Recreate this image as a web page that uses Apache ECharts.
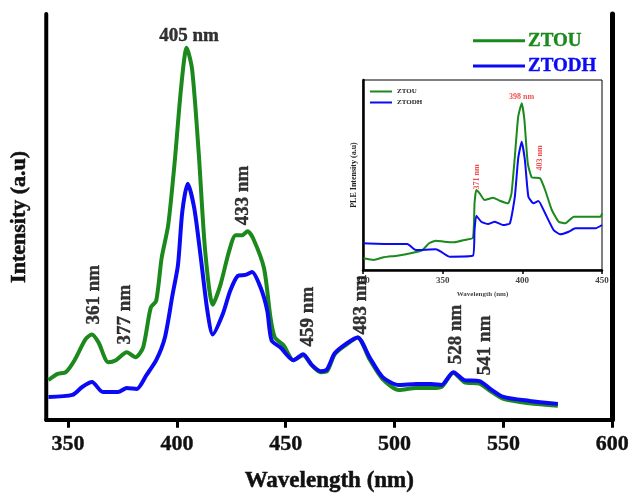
<!DOCTYPE html>
<html><head><meta charset="utf-8">
<script src="https://cdn.jsdelivr.net/npm/echarts@6/dist/echarts.min.js"></script>
<style>html,body{margin:0;padding:0;background:#fff}#c{width:632px;height:498px}</style>
</head><body><div id="c"></div>
<script>
// Main PL spectrum (wavelength nm, intensity a.u.)
const ztouMain = [[341,40],[345,46],[349,48],[353,60],[358,81],[361,86],[364,78],[368.5,58],[372,60],[377,68],[381,63],[384.5,73],[388,113],[390.5,120],[393,163],[396,196],[399,260],[402,336],[404.5,375],[407,353],[410,270],[413,170],[416.5,116],[420,136],[424,170],[427,186],[430,186],[432.5,190],[435,183],[440,153],[443,103],[445,83],[449,75],[453.5,60],[458,65],[462,55],[466,48],[469,49],[472.5,66],[478,76],[483,83],[488.5,61],[494.5,41],[502,30],[510,32],[517,32],[521.5,33],[527,47.5],[532,38],[539,36.5],[544,29],[550,21],[562,16.5],[575,14]];
const ztodhMain = [[341,23],[352,25],[356.5,33],[361,38],[366,28],[373,28],[377,32],[381.5,31],[386,45],[390.5,60],[394.5,83],[398,126],[400.5,156],[402.5,210],[405,238],[408,213],[411,163],[414,110],[416.5,86],[421,106],[424.5,130],[428,145],[431.5,146],[434.5,149],[438.5,133],[441.5,110],[443.5,80],[447.5,73],[453.5,60],[458,66],[462,55],[466,49],[469,51],[472.5,67],[478,77],[483,83],[488.5,63],[494.5,43],[502,35],[510,36],[517,36],[521.5,35],[527,48],[532,40],[539,39],[544,31],[550,23],[562,19],[575,16]];
// Inset PLE spectrum
const ztouInset = [[300.4,11.7],[306.7,10],[313,12.7],[321.5,14.3],[329.9,16.7],[337.3,20],[341.5,26.7],[345.8,29.3],[351,28.3],[357.3,27.7],[363.7,30],[369,32.3],[370,66.7],[371.1,80],[373.2,76.7],[376.3,70],[381.6,72.3],[385.8,69.3],[391.1,66.7],[393.2,76.7],[395.3,113.3],[397.4,153.3],[399.6,166.7],[401.3,150],[403.4,106.7],[405.9,92.7],[411.1,91.7],[414.3,80],[418.5,60],[422.8,48.3],[427,46.7],[432.3,53.3],[439.6,53.3],[449.1,53.3],[450,56.7]];
const ztodhInset = [[300.4,26.7],[315.2,26],[327.8,26],[333.1,20],[345.8,20.7],[348.9,18.3],[354.2,13.3],[369,14.3],[370,40],[371.1,54.3],[374.2,48.3],[378.5,46],[382.7,48.3],[388,45],[392.2,46.7],[395.3,73.3],[397.4,111.7],[399.6,128.3],[401.6,110],[403.8,73.3],[406.9,66.7],[410.1,69],[414.3,56.7],[419.6,40],[423.8,35.7],[429.1,38.3],[433.3,41.7],[446,41.7],[450,45]];
// Peak annotations
const mainPeakLabels = [[361.9,126,'361 nm'],[376,106,'377 nm'],[430.2,226,'433 nm'],[460.2,104,'459 nm'],[484.8,116,'483 nm'],[528.1,86,'528 nm'],[541.7,75,'541 nm']];
const mainTopLabel = [[405.6,387,'405 nm']];
const insetPeakLabels = [[371.6,93,'371 nm'],[411.3,112,'403 nm']];
const insetTopLabel = [[399.5,173,'398 nm']];
const mainTicks = [350,400,450,500,550,600];
const seriesNames = ['ZTOU','ZTODH'];

const GREEN = '#1b891b', BLUE = '#0a0af5';
const FONT = '"Liberation Serif","Times New Roman",serif';

function textSeries(data, xi, yi, rot, size, color, bw) {
  return {type:'scatter', xAxisIndex:xi, yAxisIndex:yi, symbolSize:0, silent:true, z:10,
    data:data, label:{show:true, position:'inside', rotate:rot, formatter:p=>p.value[2],
    fontFamily:FONT, fontWeight:'bold', fontSize:size, color:color,
    textBorderColor:color, textBorderWidth:bw}};
}

const chart = echarts.init(document.getElementById('c'));
chart.setOption({
  animation:false,
  backgroundColor:'#fff',
  grid:[
    {left:44, top:14, right:17, bottom:75},
    {left:363, top:80, right:30, bottom:228, show:true, backgroundColor:'#fff', borderColor:'#000', borderWidth:1, z:5}
  ],
  legend:[
    {left:468, top:26, orient:'vertical', itemWidth:52, itemHeight:3, itemGap:6, icon:'rect',
     data:[{name:'ZTOU', textStyle:{color:GREEN, textBorderColor:GREEN}},{name:'ZTODH', textStyle:{color:BLUE, textBorderColor:BLUE}}],
     textStyle:{fontFamily:FONT, fontWeight:'bold', fontSize:19, textBorderWidth:0.4, padding:[0,0,0,-2]}},
    {left:365, top:83, orient:'vertical', itemWidth:22, itemHeight:2, itemGap:4, icon:'rect', z:12,
     data:seriesNames, textStyle:{fontFamily:FONT, fontWeight:'bold', fontSize:7, color:'#222'}}
  ],
  xAxis:[
    {type:'value', gridIndex:0, min:340, max:600, name:'Wavelength (nm)', nameLocation:'middle', nameGap:50,
     nameTextStyle:{fontFamily:FONT, fontWeight:'bold', fontSize:23, color:'#111', textBorderColor:'#111', textBorderWidth:0.5},
     axisLine:{lineStyle:{color:'#000', width:4}},
     axisTick:{show:true, length:8, lineStyle:{color:'#000', width:3}, customValues:mainTicks},
     axisLabel:{fontFamily:FONT, fontWeight:'bold', fontSize:22, color:'#111', margin:14, customValues:mainTicks,
       textBorderColor:'#111', textBorderWidth:0.4},
     splitLine:{show:false}},
    {type:'value', gridIndex:0, min:340, max:600, position:'top', axisLine:{lineStyle:{color:'#000', width:3}},
     axisTick:{show:false}, axisLabel:{show:false}, splitLine:{show:false}},
    {type:'value', gridIndex:1, min:300, max:450, interval:50, name:'Wavelength (nm)', nameLocation:'middle', nameGap:21,
     nameTextStyle:{fontFamily:FONT, fontWeight:'bold', fontSize:7, color:'#444'},
     axisLine:{lineStyle:{color:'#000', width:2.5}},
     axisTick:{show:true, length:4, lineStyle:{color:'#000', width:1.5}},
     axisLabel:{fontFamily:FONT, fontWeight:'bold', fontSize:9, color:'#444', margin:6},
     splitLine:{show:false}, z:6}
  ],
  yAxis:[
    {type:'value', gridIndex:0, min:0, max:409, name:'Intensity (a.u)', nameLocation:'middle', nameGap:16,
     nameTextStyle:{fontFamily:FONT, fontWeight:'bold', fontSize:22, color:'#111', textBorderColor:'#111', textBorderWidth:0.5},
     axisLine:{show:true, lineStyle:{color:'#000', width:4}}, axisTick:{show:false}, axisLabel:{show:false}, splitLine:{show:false}},
    {type:'value', gridIndex:0, min:0, max:409, position:'right',
     axisLine:{show:true, lineStyle:{color:'#000', width:5}}, axisTick:{show:false}, axisLabel:{show:false}, splitLine:{show:false}},
    {type:'value', gridIndex:1, min:0, max:190, name:'PLE Intensity (a.u)', nameLocation:'middle', nameGap:5,
     nameTextStyle:{fontFamily:FONT, fontWeight:'bold', fontSize:8, color:'#222'},
     axisLine:{show:true, lineStyle:{color:'#000', width:2.5}}, axisTick:{show:false}, axisLabel:{show:false}, splitLine:{show:false}, z:6}
  ],
  series:[
    {name:'ZTOU', type:'line', xAxisIndex:0, yAxisIndex:0, data:ztouMain, showSymbol:false, smooth:0.25,
     lineStyle:{color:GREEN, width:4}, itemStyle:{color:GREEN}, z:3},
    {name:'ZTODH', type:'line', xAxisIndex:0, yAxisIndex:0, data:ztodhMain, showSymbol:false, smooth:0.25,
     lineStyle:{color:BLUE, width:4}, itemStyle:{color:BLUE}, z:4},
    {name:'ZTOU', type:'line', xAxisIndex:2, yAxisIndex:2, data:ztouInset, showSymbol:false, smooth:0.15,
     lineStyle:{color:GREEN, width:2}, itemStyle:{color:GREEN}, z:8},
    {name:'ZTODH', type:'line', xAxisIndex:2, yAxisIndex:2, data:ztodhInset, showSymbol:false, smooth:0.15,
     lineStyle:{color:BLUE, width:2}, itemStyle:{color:BLUE}, z:8},
    textSeries(mainPeakLabels, 0, 0, 90, 19, '#000', 0.4),
    textSeries(mainTopLabel, 0, 0, 0, 19, '#000', 0.4),
    textSeries(insetPeakLabels, 2, 2, 90, 8, '#ee2222', 0),
    textSeries(insetTopLabel, 2, 2, 0, 8, '#ee2222', 0)
  ]
});
</script></body></html>
